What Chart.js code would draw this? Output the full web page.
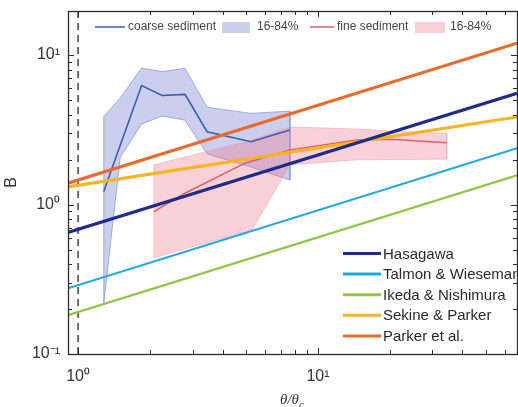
<!DOCTYPE html>
<html>
<head>
<meta charset="utf-8">
<script src="https://cdn.jsdelivr.net/npm/chart.js@4.4.1/dist/chart.umd.min.js"></script>
<style>
  html, body { margin: 0; padding: 0; background: #fff; }
  #wrap { width: 518px; height: 407px; }
</style>
</head>
<body>
<div id="wrap"><canvas id="c" width="518" height="407"></canvas></div>
<script>
// axis ranges (log-log)
const xMin = 0.908, xMax = 67.5;
const yMin = 0.1, yMax = 19.7;

// coarse sediment: median and 16-84% band
const coarseX   = [1.28, 1.5, 1.84, 2.24, 2.79, 3.45, 5.26, 7.64];
const coarseMed = [1.22, 2.5, 6.25, 5.36, 5.45, 3.07, 2.63, 3.15];
const coarseHi  = [3.87, 5.16, 8.18, 7.74, 8.15, 4.47, 4.07, 4.22];
const coarseLo  = [0.22, 2.08, 3.45, 3.91, 3.67, 2.18, 1.78, 1.46];

// fine sediment: median and 16-84% band
const fineX   = [2.07, 2.79, 4.96, 7.64, 14.5, 20, 34.4];
const fineMed = [0.895, 1.19, 1.89, 2.32, 2.70, 2.73, 2.59];
const fineHi  = [1.84, 2.08, 2.62, 3.30, 3.20, 3.10, 2.99];
const fineLoX = [2.07, 5.31, 7.64, 14.5, 34.4];
const fineLo  = [0.44, 0.675, 1.84, 1.99, 2.01];

// theory curves, read at both ends of the axis
const thetaEnds = [0.908, 67.5];
const hasagawa = [0.65, 5.55];
const talmon   = [0.275, 2.38];
const ikeda    = [0.182, 1.57];
const sekine   = [1.31, 3.85];
const parker   = [1.39, 12.0];

// critical value line
const critX = [1, 1];
const critY = [0.1, 19.7];

const theoryLabels = ['Hasagawa', 'Talmon & Wiesemann', 'Ikeda & Nishimura', 'Sekine & Parker', 'Parker et al.'];
const theoryColors = ['#1f2d8a', '#1ea8e4', '#8ec641', '#f6b423', '#ea6a2b'];
const theoryWidths = [3.2, 2.2, 2.2, 3.2, 3.2];
const topLegendLabels = ['coarse sediment', '16-84%', 'fine sediment', '16-84%'];

const FONT = '"Liberation Sans", Arial, Helvetica, sans-serif';

function pts(xs, ys) {
    return xs.map((x, i) => ({ x: x, y: ys[i] }));
}
function band(xs, hi, xl, lo) {
    let p = pts(xs, hi).concat(pts(xl, lo).reverse());
    p.push(p[0]);
    return p;
}

const supMap = { '-': '\u207B', '0': '\u2070', '1': '\u00B9', '2': '\u00B2', '3': '\u00B3' };
function powLabel(value) {
    let e = Math.log10(value);
    if (Math.abs(e - Math.round(e)) < 1e-9) {
        return '10' + String(Math.round(e)).split('').map(c => supMap[c] || c).join('');
    }
    return '';
}
function isNice(v) {
    let e = Math.floor(Math.log10(v) + 1e-9);
    let s = v / Math.pow(10, e);
    return Math.abs(s - Math.round(s)) < 1e-6;
}

let theoryData = [hasagawa, talmon, ikeda, sekine, parker];
let datasets = theoryData.map((vals, i) => ({
    label: theoryLabels[i],
    data: pts(thetaEnds, vals),
    borderColor: theoryColors[i],
    borderWidth: theoryWidths[i],
    pointRadius: 0,
    fill: false,
    order: 1 + i
}));

datasets.push({
    label: 'critical',
    data: pts(critX, critY),
    borderColor: '#111',
    borderWidth: 1.2,
    borderDash: [7, 5],
    pointRadius: 0,
    fill: false,
    order: 7
});
datasets.push({
    label: topLegendLabels[2],
    data: pts(fineX, fineMed),
    borderColor: '#dc5f6c',
    borderWidth: 1.5,
    pointRadius: 0,
    fill: false,
    order: 8
});
datasets.push({
    label: topLegendLabels[0],
    data: pts(coarseX, coarseMed),
    borderColor: '#3a5cb2',
    borderWidth: 1.6,
    pointRadius: 0,
    fill: false,
    order: 9
});
datasets.push({
    label: 'fine 16-84%',
    data: band(fineX, fineHi, fineLoX, fineLo),
    borderColor: 'rgba(236,150,165,0.6)',
    borderWidth: 0.8,
    backgroundColor: 'rgba(240,120,140,0.35)',
    pointRadius: 0,
    fill: 'shape',
    order: 10
});
datasets.push({
    label: 'coarse 16-84%',
    data: band(coarseX, coarseHi, coarseX, coarseLo),
    borderColor: 'rgba(120,150,220,0.8)',
    borderWidth: 0.9,
    backgroundColor: 'rgba(115,120,205,0.36)',
    pointRadius: 0,
    fill: 'shape',
    order: 11
});

// box, inward ticks, legends and x title
const decorations = {
    id: 'decorations',
    afterDatasetsDraw(chart) {
        let ctx = chart.ctx;
        let a = chart.chartArea;
        let xs = chart.scales.x, ys = chart.scales.y;
        ctx.save();

        ctx.strokeStyle = '#2b2b2b';
        ctx.lineWidth = 1;
        ctx.beginPath();
        xs.ticks.forEach(t => {
            let v = t.value;
            if (v < xMin || v > xMax || !isNice(v)) return;
            let px = Math.round(xs.getPixelForValue(v)) + 0.5;
            let len = Math.abs(Math.log10(v) - Math.round(Math.log10(v))) < 1e-9 ? 6 : 4;
            ctx.moveTo(px, a.bottom); ctx.lineTo(px, a.bottom - len);
            ctx.moveTo(px, a.top); ctx.lineTo(px, a.top + len);
        });
        ys.ticks.forEach(t => {
            let v = t.value;
            if (v < yMin || v > yMax || !isNice(v)) return;
            let py = Math.round(ys.getPixelForValue(v)) + 0.5;
            let len = Math.abs(Math.log10(v) - Math.round(Math.log10(v))) < 1e-9 ? 6 : 4;
            ctx.moveTo(a.left, py); ctx.lineTo(a.left + len, py);
            ctx.moveTo(a.right, py); ctx.lineTo(a.right - len, py);
        });
        ctx.stroke();
        ctx.lineWidth = 1.3;
        ctx.strokeRect(Math.round(a.left) + 0.5, Math.round(a.top) + 0.5,
            Math.round(a.right - a.left), Math.round(a.bottom - a.top));

        // top legend
        ctx.textBaseline = 'middle';
        ctx.textAlign = 'left';
        ctx.font = '12px ' + FONT;
        ctx.fillStyle = '#444';
        let ly = a.top + 16;
        ctx.strokeStyle = '#3a5cb2'; ctx.lineWidth = 1.5;
        ctx.beginPath(); ctx.moveTo(95, ly); ctx.lineTo(125, ly); ctx.stroke();
        ctx.fillText(topLegendLabels[0], 128, ly);
        ctx.fillStyle = 'rgba(115,120,205,0.36)';
        ctx.fillRect(222, ly - 5, 28, 11);
        ctx.fillStyle = '#444';
        ctx.fillText(topLegendLabels[1], 257, ly);
        ctx.strokeStyle = '#dc5f6c';
        ctx.beginPath(); ctx.moveTo(310, ly); ctx.lineTo(334, ly); ctx.stroke();
        ctx.fillText(topLegendLabels[2], 337, ly);
        ctx.fillStyle = 'rgba(240,120,140,0.35)';
        ctx.fillRect(415, ly - 5, 30, 11);
        ctx.fillStyle = '#444';
        ctx.fillText(topLegendLabels[3], 450, ly);

        // theory legend
        ctx.font = '15px ' + FONT;
        theoryLabels.forEach((lab, i) => {
            let y = 253.5 + i * 20.6;
            ctx.strokeStyle = theoryColors[i];
            ctx.lineWidth = 3;
            ctx.beginPath(); ctx.moveTo(343, y); ctx.lineTo(381, y); ctx.stroke();
            ctx.fillStyle = '#2a2a2a';
            ctx.fillText(lab, 383, y + 1);
        });

        // x axis title
        let cx = (a.left + a.right) / 2;
        ctx.font = 'italic 15px "Liberation Serif", "DejaVu Serif", serif';
        ctx.fillStyle = '#333';
        ctx.textBaseline = 'alphabetic';
        let main = '\u03B8/\u03B8';
        let w = ctx.measureText(main).width;
        ctx.fillText(main, cx - w / 2 - 3, 404);
        ctx.font = 'italic 11px "Liberation Serif", "DejaVu Serif", serif';
        ctx.fillText('c', cx + w / 2 - 3, 408);
        ctx.restore();
    }
};

new Chart(document.getElementById('c').getContext('2d'), {
    type: 'line',
    data: { datasets: datasets },
    options: {
        responsive: false,
        animation: false,
        layout: { padding: { top: 11, right: 1, left: 0, bottom: 0 } },
        elements: { line: { tension: 0 } },
        plugins: { legend: { display: false }, tooltip: { enabled: false } },
        scales: {
            x: {
                type: 'logarithmic',
                min: xMin,
                max: xMax,
                grid: { display: false, drawTicks: false },
                border: { display: false },
                ticks: {
                    autoSkip: false, maxRotation: 0, padding: 13,
                    color: '#333', font: { family: FONT, size: 16 },
                    callback: powLabel
                },
                afterFit: s => { s.height = 53; s.paddingLeft = 0; s.paddingRight = 0; }
            },
            y: {
                type: 'logarithmic',
                min: yMin,
                max: yMax,
                grid: { display: false, drawTicks: false },
                border: { display: false },
                ticks: {
                    autoSkip: false, padding: 8,
                    color: '#333', font: { family: FONT, size: 16 },
                    callback: powLabel
                },
                title: { display: true, text: 'B', color: '#333', font: { family: FONT, size: 16 }, padding: 2 },
                afterFit: s => { s.width = 68; s.paddingTop = 0; s.paddingBottom = 0; }
            }
        }
    },
    plugins: [decorations]
});
</script>
</body>
</html>
